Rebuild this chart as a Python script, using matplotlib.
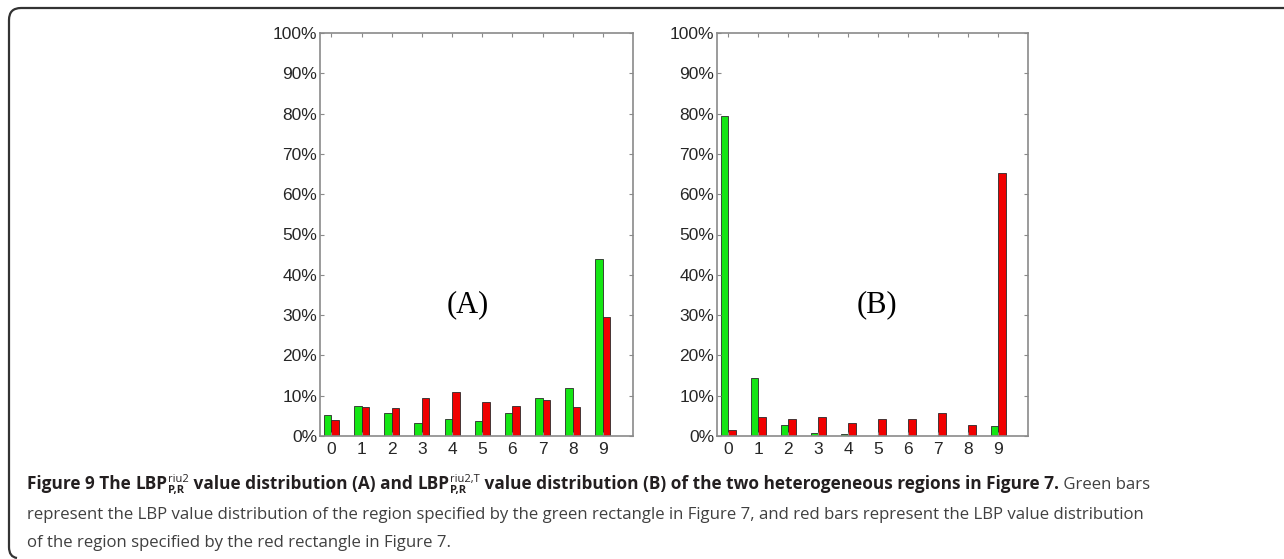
import matplotlib
matplotlib.use('Agg')
from matplotlib import pyplot as plt
from matplotlib.path import Path
from matplotlib.patches import PathPatch
from matplotlib import transforms as mtransforms
import numpy as np

# LBP values 0..9, percentages
categories = list(range(10))
green_a = [5.1, 7.4, 5.8, 3.2, 4.2, 3.8, 5.8, 9.4, 11.8, 43.8]
red_a = [4.0, 7.1, 7.0, 9.4, 10.9, 8.5, 7.4, 8.9, 7.1, 29.6]
green_b = [79.3, 14.5, 2.7, 0.75, 0.5, 0.0, 0.0, 0.0, 0.0, 2.5]
red_b = [1.4, 4.6, 4.2, 4.6, 3.2, 4.2, 4.1, 5.6, 2.7, 65.3]
yticks = list(range(0, 101, 10))
ytick_labels = ['{}%'.format(v) for v in yticks]

W, H = 1284, 559
fig = plt.figure(figsize=(W / 100, H / 100), dpi=100)
fig.patch.set_facecolor('white')

GREEN = '#14e614'
RED = '#f00000'
FRAME = '#8a8a8a'
TICKTXT = '#262626'


def draw_panel(rect, green, red, label, label_xy):
    ax = fig.add_axes(rect)
    x = np.array(categories)
    w = 0.25
    ax.bar(x - w / 2, green, width=w, color=GREEN, edgecolor='#2a2a2a', linewidth=0.6)
    ax.bar(x + w / 2, red, width=w, color=RED, edgecolor='#2a2a2a', linewidth=0.6)
    ax.set_xlim(-0.38, 10.0)
    ax.set_ylim(0, 100)
    ax.set_xticks(categories)
    ax.set_yticks(yticks)
    ax.set_yticklabels(ytick_labels)
    for s in ax.spines.values():
        s.set_color(FRAME)
        s.set_linewidth(1.2)
    ax.tick_params(axis='both', which='both', direction='in', length=3, width=0.8,
                   color=FRAME, top=True, right=True, labelcolor=TICKTXT,
                   labelsize=12.5)
    ax.tick_params(axis='y', pad=2)
    ax.tick_params(axis='x', pad=4)
    for t in ax.get_xticklabels() + ax.get_yticklabels():
        t.set_family('Liberation Sans')
    ax.text(label_xy[0], label_xy[1], label, fontsize=22, family='Liberation Serif',
            ha='center', va='center', color='black')
    return ax


draw_panel([320 / W, 1 - 436 / H, 313 / W, 403 / H], green_a, red_a, '(A)', (4.53, 32.5))
draw_panel([717 / W, 1 - 436 / H, 311 / W, 403 / H], green_b, red_b, '(B)', (4.97, 32.5))

# rounded frame round the figure (top and left sides only)
r = 12
verts = [(W, H - 8), (9 + r, H - 8), (9, H - 8), (9, H - 8 - r),
         (9, 12), (9, 2), (17, 1)]
codes = [Path.MOVETO, Path.LINETO, Path.CURVE3, Path.CURVE3,
         Path.LINETO, Path.CURVE3, Path.CURVE3]
fig.patches.append(PathPatch(Path(verts, codes), facecolor='none', edgecolor='#333333',
                             linewidth=1.6, transform=mtransforms.IdentityTransform()))

# caption, drawn piece by piece
renderer = fig.canvas.get_renderer()
CAP_FONT = 'Open Sans'
CAP_SIZE = 12.1
BOLD_SIZE = 12.4
BOLD_COL = '#231f20'
REG_COL = '#404040'


def put(x, y, text, size=CAP_SIZE, weight='normal', color=REG_COL):
    t = fig.text(x / W, 1 - y / H, text, fontsize=size, fontweight=weight,
                 family=CAP_FONT, color=color, ha='left', va='baseline')
    return x + t.get_window_extent(renderer).width


def lbp(x, y, sup):
    x = put(x, y, 'LBP', size=BOLD_SIZE, weight='bold', color=BOLD_COL)
    x1 = put(x + 1, y - 7, sup, size=8, color=BOLD_COL)
    x2 = put(x + 1, y + 4, 'P,R', size=8, weight='bold', color=BOLD_COL)
    return max(x1, x2)


y1, y2, y3 = 489, 519, 547
x = 27
x = put(x, y1, 'Figure 9 The ', size=BOLD_SIZE, weight='bold', color=BOLD_COL)
x = lbp(x, y1, 'riu2')
x = put(x, y1, ' value distribution (A) and ', size=BOLD_SIZE, weight='bold',
        color=BOLD_COL)
x = lbp(x, y1, 'riu2,T')
x = put(x, y1, ' value distribution (B) of the two heterogeneous regions in Figure 7.',
        size=BOLD_SIZE, weight='bold', color=BOLD_COL)
put(x, y1, ' Green bars')
put(27, y2, 'represent the LBP value distribution of the region specified by the green '
            'rectangle in Figure 7, and red bars represent the LBP value distribution')
put(27, y3, 'of the region specified by the red rectangle in Figure 7.')

plt.savefig('out.png', dpi=100)
plt.close()
